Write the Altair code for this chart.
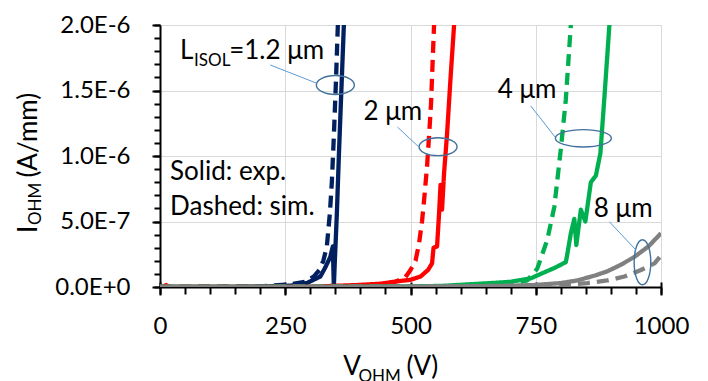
import altair as alt
import pandas as pd

# ---- data (V in volts, I in units of 1e-6 A/mm) ----
blue_exp_v = [0, 200, 260, 293, 320, 330, 340, 343, 345, 347, 349, 353, 357, 362, 367, 369]
blue_exp_i = [0, 0.002, 0.01, 0.03, 0.08, 0.15, 0.23, 0.28, 0.31, 0.0, 0.2, 0.56, 1.0, 1.5, 2.0, 2.1]
blue_sim_v = [0, 200, 260, 290, 307, 318, 326, 333, 339, 343, 347, 351, 355, 356]
blue_sim_i = [0, 0.005, 0.02, 0.04, 0.08, 0.13, 0.2, 0.31, 0.56, 0.8, 1.15, 1.55, 2.0, 2.1]

red_exp_v = [0, 5, 12, 18, 300, 393, 440, 467, 500, 520, 535, 543, 546, 553, 557, 560, 563, 567, 573, 580, 587, 588]
red_exp_i = [0, 0, 0.015, 0, 0.002, 0.015, 0.025, 0.04, 0.055, 0.08, 0.13, 0.18, 0.3, 0.31, 0.56, 0.78, 0.59, 0.87, 1.17, 1.6, 2.0, 2.1]
red_sim_v = [0, 380, 440, 470, 490, 500, 510, 517, 523, 528, 533, 537, 541, 544, 547, 548]
red_sim_i = [0, 0.003, 0.015, 0.04, 0.075, 0.13, 0.2, 0.33, 0.5, 0.7, 0.92, 1.15, 1.4, 1.7, 2.0, 2.1]

green_exp_v = [0, 400, 560, 660, 700, 740, 760, 790, 810, 813, 820, 827, 831, 840, 849, 860, 870, 879, 888, 897, 898]
green_exp_i = [0, 0.002, 0.008, 0.03, 0.04, 0.066, 0.1, 0.15, 0.19, 0.25, 0.41, 0.52, 0.32, 0.59, 0.5, 0.8, 0.85, 1.02, 1.5, 2.0, 2.1]
green_sim_v = [0, 600, 700, 733, 753, 773, 787, 800, 810, 820, 821]
green_sim_i = [0, 0.005, 0.02, 0.05, 0.14, 0.36, 0.61, 1.05, 1.43, 2.0, 2.1]

grey_exp_v = [0, 500, 600, 700, 747, 800, 833, 870, 893, 920, 947, 975, 1000]
grey_exp_i = [0, 0.002, 0.005, 0.01, 0.015, 0.03, 0.05, 0.09, 0.12, 0.17, 0.23, 0.31, 0.41]
grey_sim_v = [0, 700, 800, 853, 893, 927, 960, 987, 1000]
grey_sim_i = [0, 0.005, 0.015, 0.03, 0.05, 0.08, 0.13, 0.18, 0.24]

series_names = ["1.2 μm", "2 μm", "4 μm", "8 μm"]
series_colors = ["#002060", "#FF0000", "#00B050", "#808080"]

x_major_ticks = [0, 250, 500, 750, 1000]
x_minor_ticks = list(range(0, 1001, 50))
y_major_ticks = [0, 0.5, 1.0, 1.5, 2.0]
y_minor_ticks = [k / 10 for k in range(0, 21)]
y_tick_labels = ["0.0E+0", "5.0E-7", "1.0E-6", "1.5E-6", "2.0E-6"]

# annotation texts (position in data units, font size, angle)
note_text = ["L", "ISOL", "=1.2 μm", "2 μm", "4 μm", "8 μm", "Solid: exp.", "Dashed: sim.",
             "V", "OHM", "(V)", "I", "OHM", "(A/mm)"]
note_v = [40, 68, 138, 406, 674, 866, 20, 20, 366, 396, 492, -246, -238, -246]
note_i = [1.738, 1.687, 1.738, 1.275, 1.44, 0.537, 0.817, 0.55, -0.672, -0.725, -0.672, 0.412, 0.473, 0.835]
note_fs = [26, 17, 26, 26, 26, 26, 26, 26, 26, 17, 26, 26, 17, 26]
note_ang = [0, 0, 0, 0, 0, 0, 0, 0, 0, 0, 0, 270, 270, 270]

# callout ellipses and leader lines
ell_v = [350, 555, 845, 963]
ell_i = [1.542, 1.071, 1.135, 0.189]
ell_id = ["e1", "e2", "e3", "e4"]
ell_paths = ["M -1 0 A 1 0.5 0 1 1 1 0 A 1 0.5 0 1 1 -1 0",
             "M -1 0 A 1 0.47 0 1 1 1 0 A 1 0.47 0 1 1 -1 0",
             "M -1 0 A 1 0.31 0 1 1 1 0 A 1 0.31 0 1 1 -1 0",
             "M 0 -1 A 0.37 1 0 1 1 0 1 A 0.37 1 0 1 1 0 -1"]
ell_size = [1444, 1444, 3136, 2025]
lead_v = [220, 474, 740, 897]
lead_i = [1.695, 1.221, 1.382, 0.498]
lead_v2 = [313, 516, 789, 950]
lead_i2 = [1.555, 1.071, 1.143, 0.282]

# ---- tables ----
curves = [
    (series_names[0], "exp", blue_exp_v, blue_exp_i), (series_names[0], "sim", blue_sim_v, blue_sim_i),
    (series_names[1], "exp", red_exp_v, red_exp_i), (series_names[1], "sim", red_sim_v, red_sim_i),
    (series_names[2], "exp", green_exp_v, green_exp_i), (series_names[2], "sim", green_sim_v, green_sim_i),
    (series_names[3], "exp", grey_exp_v, grey_exp_i), (series_names[3], "sim", grey_sim_v, grey_sim_i),
]
rows = []
for name, kind, vs, iis in curves:
    for k, (v, i) in enumerate(zip(vs, iis)):
        rows.append({"series": name, "kind": kind, "V": v, "I": i, "k": k})
df = pd.DataFrame(rows)

notes = pd.DataFrame({"text": note_text, "V": note_v, "I": note_i, "fs": note_fs, "ang": note_ang})
ells = pd.DataFrame({"V": ell_v, "I": ell_i, "id": ell_id, "sz": ell_size})
leads = pd.DataFrame({"V": lead_v, "I": lead_i, "V2": lead_v2, "I2": lead_i2})

x_scale = alt.Scale(domain=[0, 1000], nice=False, zero=False)
y_scale = alt.Scale(domain=[0, 2], nice=False, zero=False)

label_expr = "[" + ",".join("'%s'" % s for s in y_tick_labels) + "][round(datum.value*2)]"

x_major = alt.Axis(orient="bottom", values=x_major_ticks, format="d", title=None, tickSize=13, offset=-5,
                   domain=False, grid=True, gridColor="#D9D9D9", gridWidth=1, tickColor="black", tickWidth=2,
                   labelFont="Lato", labelFontSize=24, labelColor="black", labelPadding=19,
                   labelFlush=False, labelOverlap=False)
y_major = alt.Axis(orient="left", values=y_major_ticks, labelExpr=label_expr, title=None, tickSize=8,
                   domain=True, domainColor="black", domainWidth=2, grid=True, gridColor="#D9D9D9",
                   gridWidth=1, tickColor="black", tickWidth=2, labelFont="Lato", labelFontSize=24,
                   labelColor="black", labelPadding=22, labelFlush=False, labelOverlap=False)
x_minor = alt.Axis(orient="bottom", values=x_minor_ticks, labels=False, title=None, tickSize=7, domain=True,
                   domainColor="black", domainWidth=2, grid=False, tickColor="black", tickWidth=2)
y_minor = alt.Axis(orient="left", values=y_minor_ticks, labels=False, title=None, tickSize=6, domain=False,
                   grid=False, tickColor="black", tickWidth=2)

lines = alt.Chart(df).mark_line(strokeWidth=4.3, clip=True, strokeCap="butt", strokeJoin="round").encode(
    x=alt.X("V:Q", scale=x_scale, axis=x_major),
    y=alt.Y("I:Q", scale=y_scale, axis=y_major),
    color=alt.Color("series:N", scale=alt.Scale(domain=series_names, range=series_colors), legend=None),
    strokeDash=alt.StrokeDash("kind:N", scale=alt.Scale(domain=["exp", "sim"], range=[[1, 0], [12, 7]]),
                              legend=None),
    order="k:Q",
)

ellipses = alt.Chart(ells).mark_point(filled=False, stroke="#41719C", strokeWidth=1.4, opacity=1).encode(
    x=alt.X("V:Q", scale=x_scale, axis=x_minor),
    y=alt.Y("I:Q", scale=y_scale, axis=y_minor),
    shape=alt.Shape("id:N", scale=alt.Scale(domain=ell_id, range=ell_paths), legend=None),
    size=alt.Size("sz:Q", scale=None),
)

leaders = alt.Chart(leads).mark_rule(color="#5B9BD5", strokeWidth=1).encode(
    x=alt.X("V:Q", scale=x_scale, axis=None),
    y=alt.Y("I:Q", scale=y_scale, axis=None),
    x2="V2:Q",
    y2="I2:Q",
)

texts = alt.Chart(notes).mark_text(align="left", baseline="alphabetic", font="Lato", color="black").encode(
    x=alt.X("V:Q", scale=x_scale, axis=None),
    y=alt.Y("I:Q", scale=y_scale, axis=None),
    text="text:N",
    size=alt.Size("fs:Q", scale=None),
    angle=alt.Angle("ang:Q", scale=None),
)

chart = alt.layer(lines, ellipses, leaders, texts).resolve_axis(x="independent", y="independent").properties(
    width=501, height=262,
    autosize=alt.AutoSizeParams(type="none"),
    padding={"left": 152, "top": 17, "right": 39, "bottom": 94},
).configure_view(stroke="black", strokeWidth=2).configure(font="Lato")

chart.save("out.html", embed_options={"renderer": "svg", "actions": False})
